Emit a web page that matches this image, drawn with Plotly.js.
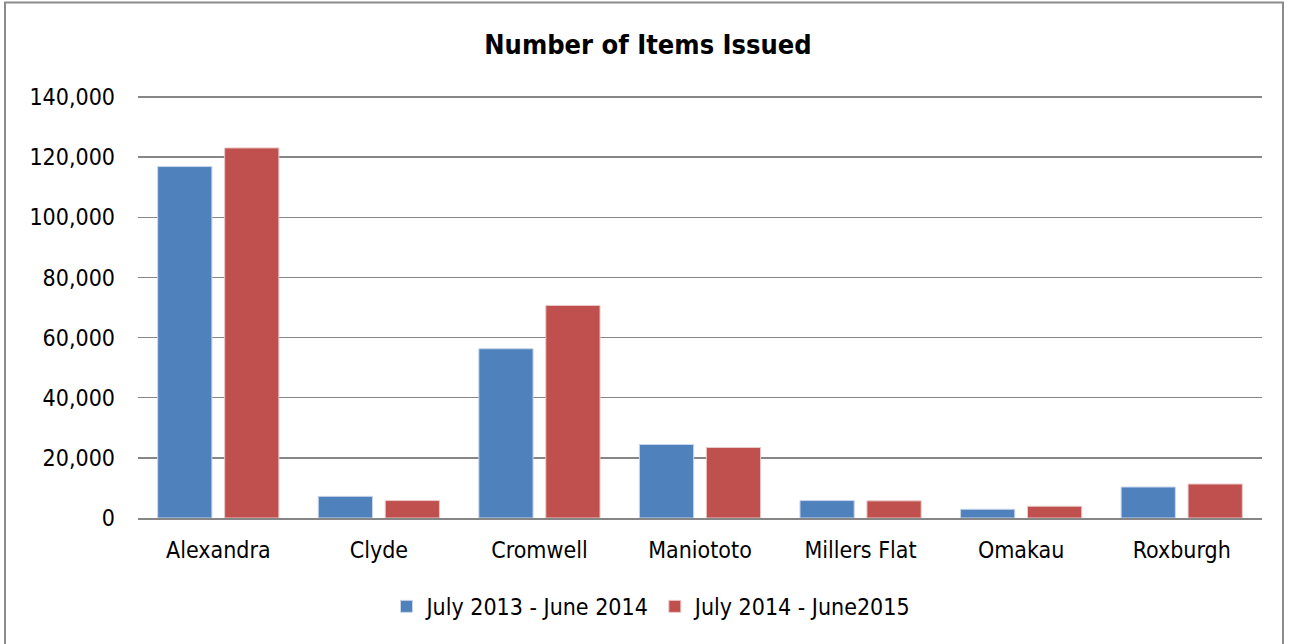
<!DOCTYPE html>
<html><head><meta charset="utf-8">
<script src="https://cdn.plot.ly/plotly-3.0.1.min.js"></script>
<style>html,body{margin:0;padding:0;background:#fff}#chart{width:1292px;height:644px}</style>
</head><body><div id="chart"></div>
<script>
const categories = ["Alexandra","Clyde","Cromwell","Maniototo","Millers Flat","Omakau","Roxburgh"];
const series1Name = "July 2013 - June 2014";
const series2Name = "July 2014 - June2015";
const series1 = [116900, 7200, 56300, 24450, 5800, 2900, 10300];
const series2 = [123100, 5800, 70700, 23450, 5700, 3900, 11300];
const yTicks = [0,20000,40000,60000,80000,100000,120000,140000];
const yTickText = ["0","20,000","40,000","60,000","80,000","100,000","120,000","140,000"];

const FONT = "DejaVu Sans Condensed, DejaVu Sans, sans-serif";
const L=138, R=1262, T=97, B=518, W=1292, H=644;
const pw=R-L, ph=B-T;
const px=x=>(x-L)/pw, py=y=>(B-y)/ph;

const traces = [
  {type:"bar", name:series1Name, x:categories, y:series1, marker:{color:"#4F81BD", line:{color:"#c9d6ea", width:1}}},
  {type:"bar", name:series2Name, x:categories, y:series2, marker:{color:"#C0504D", line:{color:"#eac9c8", width:1}}}
];
const layout = {
  width:W, height:H,
  margin:{l:L, r:W-R, t:T-2, b:H-B, pad:0},
  paper_bgcolor:"#fff", plot_bgcolor:"#fff",
  font:{family:FONT, size:23, color:"#000"},
  title:{text:"<b>Number of Items Issued</b>", font:{family:FONT, size:27, color:"#000"}, x:648/W, xanchor:"center", y:1-45/H, yanchor:"middle"},
  barmode:"group", bargap:0.166, bargroupgap:0.19,
  xaxis:{showgrid:false, showline:true, linecolor:"#868686", linewidth:2, ticks:"", ticklabelstandoff:10, tickfont:{family:FONT,size:23,color:"#000"}, fixedrange:true},
  yaxis:{range:[0,140700], tickvals:yTicks, ticktext:yTickText, showgrid:true, gridcolor:"#868686", gridwidth:1.5, zeroline:false, showline:false, ticks:"", ticklabelstandoff:22, tickfont:{family:FONT,size:23,color:"#000"}, fixedrange:true},
  showlegend:true,
  legend:{orientation:"h", x:px(652), xanchor:"center", y:py(606), yanchor:"middle", font:{family:FONT,size:23,color:"#000"}, itemwidth:20, tracegroupgap:0},
  shapes:[{type:"rect", xref:"paper", yref:"paper", x0:px(5), x1:px(1283), y0:py(660), y1:py(5), line:{color:"#8c8c8c", width:2}, fillcolor:"rgba(0,0,0,0)", layer:"below"}]
};
Plotly.newPlot("chart", traces, layout, {displayModeBar:false, staticPlot:true});
</script></body></html>
